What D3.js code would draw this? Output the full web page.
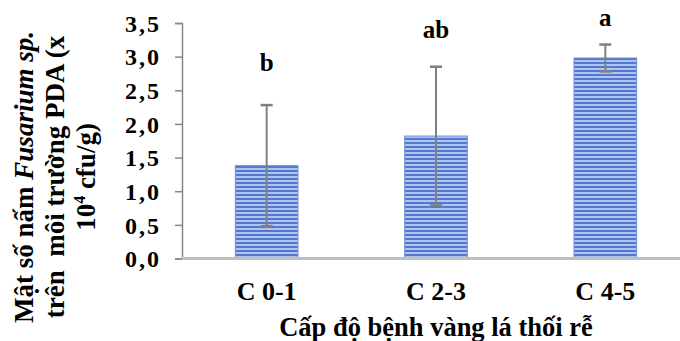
<!DOCTYPE html>
<html>
<head>
<meta charset="utf-8">
<script src="https://cdn.jsdelivr.net/npm/d3@7"></script>
<style>
  body { margin: 0; background: #fff; }
  svg text { font-family: "Liberation Serif", "Times New Roman", Times, serif !important; font-weight: bold; fill: #000; }
</style>
</head>
<body>
<div id="chart"></div>
<script>
'use strict';

// data
var categories = ['C 0-1', 'C 2-3', 'C 4-5'];
var means = [1.38, 1.82, 2.98];
var errs = [0.90, 1.03, 0.20];
var letters = ['b', 'ab', 'a'];
var letterAt = [2.78, 3.28, 3.45];   // height of the letter baselines, in axis units
var yTicks = [0, 0.5, 1, 1.5, 2, 2.5, 3, 3.5];
var xTitle = 'Cấp độ bệnh vàng lá thối rễ';

var chart = {};
chart.w = 680;
chart.h = 341;
chart.left = 182;
chart.right = 690;
chart.top = 23;
chart.bottom = 258.5;

var svg = d3.select('#chart').append('svg')
    .attr('width', chart.w)
    .attr('height', chart.h);

// striped bar fill
var pat = svg.append('defs').append('pattern')
    .attr('id', 'stripes')
    .attr('patternUnits', 'userSpaceOnUse')
    .attr('width', 8)
    .attr('height', 4);
pat.append('rect').attr('width', 8).attr('height', 4).attr('fill', '#b0c4ef');
pat.append('rect').attr('y', 2).attr('width', 8).attr('height', 2).attr('fill', '#5279cf');

var x = d3.scaleBand().domain(categories).range([chart.left, chart.right]).paddingInner(0.63).paddingOuter(0.315);
var y = d3.scaleLinear().domain([0, 3.5]).range([chart.bottom, chart.top]);

// y axis
var yAxis = d3.axisLeft(y).tickValues(yTicks).tickSize(7).tickPadding(14)
    .tickFormat(function(d){ return d3.format('.1f')(d).replace('.', ','); });
var yg = svg.append('g')
    .attr('transform', 'translate(' + chart.left + ',0)')
    .call(yAxis);
yg.attr('font-family', null).attr('font-size', null);
yg.select('.domain').attr('stroke', '#888').attr('stroke-width', 1.5);
yg.selectAll('.tick line').attr('stroke', '#888').attr('stroke-width', 1.5);
yg.selectAll('.tick text')
    .style('font-size', '24px')
    .style('letter-spacing', '2px')
    .attr('dy', '0.34em');

// bars
svg.selectAll('.bar')
    .data(means)
    .enter()
    .append('rect')
    .attr('class', 'bar')
    .attr('x', function(d, i){ return x(categories[i]); })
    .attr('y', function(d){ return y(d); })
    .attr('width', x.bandwidth())
    .attr('height', function(d){ return y(0) - y(d); })
    .attr('fill', 'url(#stripes)')
    .attr('stroke', '#6f8fd6')
    .attr('stroke-width', 1);

// x axis line
svg.append('line')
    .attr('x1', chart.left).attr('x2', chart.w)
    .attr('y1', chart.bottom).attr('y2', chart.bottom)
    .attr('stroke', '#bfbfbf').attr('stroke-width', 3);

// error bars
var eg = svg.selectAll('.err').data(means).enter().append('g').attr('class', 'err');
eg.append('line')
    .attr('x1', function(d, i){ return x(categories[i]) + x.bandwidth() / 2; })
    .attr('x2', function(d, i){ return x(categories[i]) + x.bandwidth() / 2; })
    .attr('y1', function(d, i){ return y(d + errs[i]); })
    .attr('y2', function(d, i){ return y(d - errs[i]); })
    .attr('stroke', '#808080').attr('stroke-width', 2);
[1, -1].forEach(function(s){
    eg.append('line')
        .attr('x1', function(d, i){ return x(categories[i]) + x.bandwidth() / 2 - 6; })
        .attr('x2', function(d, i){ return x(categories[i]) + x.bandwidth() / 2 + 6; })
        .attr('y1', function(d, i){ return y(d + s * errs[i]); })
        .attr('y2', function(d, i){ return y(d + s * errs[i]); })
        .attr('stroke', '#808080').attr('stroke-width', 2.5);
});

// significance letters
svg.selectAll('.letter')
    .data(letters)
    .enter()
    .append('text')
    .attr('x', function(d, i){ return x(categories[i]) + x.bandwidth() / 2; })
    .attr('y', function(d, i){ return y(letterAt[i]); })
    .attr('text-anchor', 'middle')
    .style('font-size', '25px')
    .text(function(d){ return d; });

// category labels
svg.selectAll('.cat')
    .data(categories)
    .enter()
    .append('text')
    .attr('x', function(d){ return x(d) + x.bandwidth() / 2; })
    .attr('y', 300)
    .attr('text-anchor', 'middle')
    .style('font-size', '26px')
    .text(function(d){ return d; });

// x title
svg.append('text')
    .attr('x', 436)
    .attr('y', 336)
    .attr('text-anchor', 'middle')
    .style('font-size', '26.5px')
    .text(xTitle);

// y title (three lines, rotated)
var yt = svg.append('text')
    .attr('transform', 'translate(0,177) rotate(-90)')
    .attr('text-anchor', 'middle')
    .style('font-size', '27px');
yt.append('tspan').attr('x', 0).attr('y', 33).text('Mật số nấm ')
  .append('tspan').style('font-style', 'italic').text('Fusarium sp.');
yt.append('tspan').attr('x', 0).attr('y', 64).style('white-space', 'pre').text('trên  môi trường PDA (x');
var l3 = yt.append('tspan').attr('x', 0).attr('y', 95);
l3.append('tspan').text('10');
l3.append('tspan').attr('dy', -10).style('font-size', '16px').text('4');
l3.append('tspan').attr('dy', 10).text(' cfu/g)');
</script>
</body>
</html>
